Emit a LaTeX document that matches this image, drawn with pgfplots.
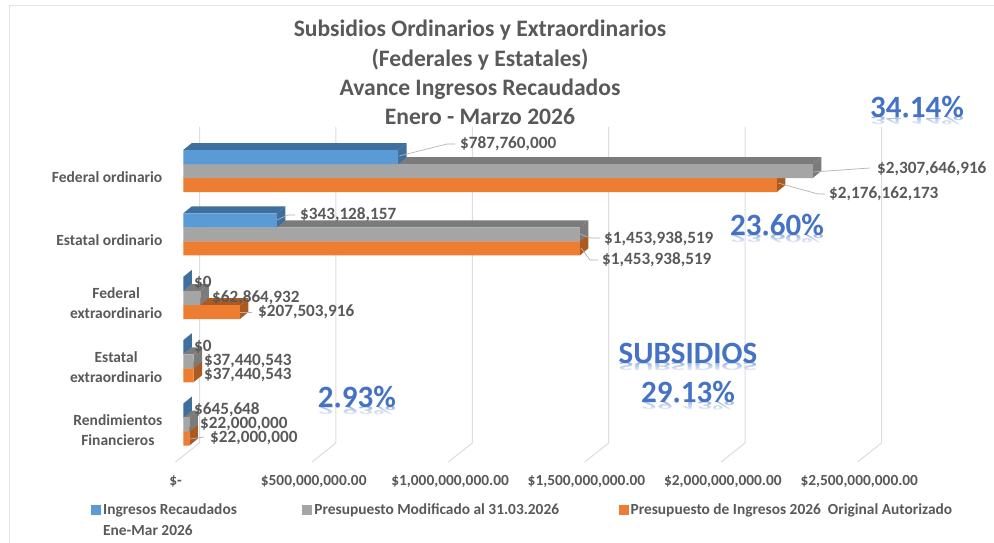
\documentclass[border=0pt]{standalone}
\usepackage{fontspec}
\setmainfont{Carlito}
\usepackage{pgfplots}
\pgfplotsset{compat=1.18}
\usetikzlibrary{fadings}
\definecolor{cblue}{HTML}{5B9BD5}
\definecolor{cbluedk}{HTML}{3F6F9C}
\definecolor{cgray}{HTML}{A5A5A5}
\definecolor{cgraydk}{HTML}{7B7B7B}
\definecolor{corange}{HTML}{ED7D31}
\definecolor{corangedk}{HTML}{AD5A20}
\definecolor{ctxt}{HTML}{595959}
\definecolor{cgrid}{HTML}{DDDDDD}
\definecolor{cpct}{HTML}{4472C4}
% x in millions of pesos, y in picture rows; 3d faces go 8.5px right and 7px up
\newcommand{\faces}[3]{%
  \pgfmathsetmacro\vd{#1+31.16}\pgfmathsetmacro\yb{#2-7}\pgfmathsetmacro\yc{#2+7}\pgfmathsetmacro\yd{#2+14}%
  \addplot[fill=#3,draw=none,forget plot] coordinates {(0,#2)(31.16,\yb)(\vd,\yb)(#1,#2)} -- cycle;
  \addplot[fill=#3,draw=none,forget plot] coordinates {(#1,#2)(\vd,\yb)(\vd,\yc)(#1,\yd)} -- cycle;
}
\newcommand{\pctshadow}[3]{% x, y, text
  \node[font=\fontsize{31}{31}\selectfont\bfseries,text=cpct,yscale=-0.4,opacity=.5,anchor=base] at (#1,543-#2-10) {#3};
  \fill[white,path fading=north] (#1-72,543-#2-9.5) rectangle (#1+72,543-#2-19.5);
}
\newcommand{\pct}[3]{% x, y, text
  \node[font=\fontsize{31}{31}\selectfont\bfseries,text=cpct] at (#1,543-#2) {#3};
}
\tikzset{lbl/.style={font=\fontsize{17.2}{18}\selectfont\bfseries,text=ctxt,anchor=west,inner sep=0pt},
  lead/.style={draw=black!30,line width=0.7pt}}
\begin{document}
\begin{tikzpicture}[x=1pt,y=1pt]
\path[use as bounding box,fill=white] (0,0) rectangle (994,543);
\draw[cgrid!80,line width=1.4pt] (9.5,0) -- (9.5,537.5) -- (994,537.5);
% reflections of the percentages
\pctshadow{917}{107}{34.14\%}
\pctshadow{777}{225}{23.60\%}
\pctshadow{688}{353}{SUBSIDIOS}
\pctshadow{688}{392}{29.13\%}
\pctshadow{357}{397}{2.93\%}
% back wall and floor lines
\foreach \gx in {199.5,335.9,472.3,608.7,745.1,881.5}
  \draw[cgrid,line width=1pt] (\gx,543-127) -- (\gx,543-443) -- (\gx-24,543-462);
\begin{axis}[
  at={(0,0)},anchor=south west,
  scale only axis,width=994pt,height=543pt,
  xmin=-672,xmax=2972,ymin=0,ymax=543,y dir=reverse,
  clip=false,axis line style={draw=none},major tick length=0pt,
  xtick={0,500,1000,1500,2000,2500},
  xticklabels={\$-\ \ ,\$500{,}000{,}000.00,\$1{,}000{,}000{,}000.00,\$1{,}500{,}000{,}000.00,\$2{,}000{,}000{,}000.00,\$2{,}500{,}000{,}000.00},
  xticklabel style={font=\fontsize{15.4}{16}\selectfont\bfseries,text=ctxt,yshift=62pt,xshift=-6pt,anchor=center},
  ytick={177,240,303,367,430},
  yticklabels={Federal ordinario,Estatal ordinario,Federal\\extraordinario,Estatal\\extraordinario,Rendimientos\\Financieros},
  yticklabel style={font=\fontsize{15.5}{19.5}\selectfont\bfseries,text=ctxt,align=center,anchor=east,xshift=162.5pt,inner xsep=0pt},
  legend columns=3,reverse legend,
  legend style={at={(axis description cs:0.0915,0.0757)},anchor=north west,draw=none,fill=none,font=\fontsize{15.4}{18}\selectfont\bfseries,text=ctxt,
    cells={anchor=west},/tikz/every even column/.append style={column sep=60pt},inner sep=0pt},
  legend image code/.code={\fill[#1] (0pt,-4.5pt) rectangle (10pt,5pt);},
]
\faces{2176.16}{178}{corangedk}
\faces{1453.94}{241.3}{corangedk}
\faces{207.50}{305}{corangedk}
\faces{37.44}{368.3}{corangedk}
\faces{22.00}{431.6}{corangedk}
\addplot[xbar,bar width=14pt,bar shift=0pt,fill=corange,draw=none]
  coordinates {(2176.16,185)(1453.94,248.3)(207.50,312)(37.44,375.3)(22.00,438.6)};
\addlegendentry{Presupuesto de Ingresos 2026\ \ Original Autorizado}
\faces{2307.65}{164}{cgraydk}
\faces{1453.94}{227.3}{cgraydk}
\faces{62.86}{291}{cgraydk}
\faces{37.44}{354.3}{cgraydk}
\faces{22.00}{417.6}{cgraydk}
\addplot[xbar,bar width=14pt,bar shift=0pt,fill=cgray,draw=none]
  coordinates {(2307.65,171)(1453.94,234.3)(62.86,298)(37.44,361.3)(22.00,424.6)};
\addlegendentry{Presupuesto Modificado al 31.03.2026\hspace{-2.5pt}\null}
\faces{787.76}{150}{cbluedk}
\faces{343.13}{213.3}{cbluedk}
\faces{0}{277}{cbluedk}
\faces{0}{340.3}{cbluedk}
\faces{0.65}{403.6}{cbluedk}
\addplot[xbar,bar width=14pt,bar shift=0pt,fill=cblue,draw=none]
  coordinates {(787.76,157)(343.13,220.3)(0,284)(0,347.3)(0.65,410.6)};
\addlegendentry{Ingresos Recaudados\hspace{3.5pt}\null}
\end{axis}
\node[font=\fontsize{15.4}{18}\selectfont\bfseries,text=ctxt,anchor=west,inner sep=0pt] at (103,543-530) {Ene-Mar 2026};
% title
\node[font=\fontsize{23.6}{29.2}\selectfont\bfseries,text=ctxt,align=center] at (480,543-72.5)
  {Subsidios Ordinarios y Extraordinarios\\(Federales y Estatales)\\Avance Ingresos Recaudados\\Enero - Marzo 2026};
% leader lines
\draw[lead] (399,543-156) -- (447,543-144) -- (455,543-144);
\draw[lead] (813,543-172) -- (870,543-168);
\draw[lead] (778,543-183) -- (818,543-194) -- (825,543-194);
\draw[lead] (277,543-220) -- (288,543-215) -- (295,543-215);
\draw[lead] (580,543-234) -- (590,543-238) -- (600,543-238);
\draw[lead] (581,543-248) -- (590,543-260) -- (598,543-260);
\draw[lead] (240,543-312) -- (252,543-312);
\draw[lead] (190,543-439) -- (204,543-437);
% data labels
\node[lbl] at (460,543-144) {\$787,760,000};
\node[lbl] at (877,543-169) {\$2,307,646,916};
\node[lbl] at (829,543-194) {\$2,176,162,173};
\node[lbl] at (300,543-215) {\$343,128,157};
\node[lbl] at (604,543-238.7) {\$1,453,938,519};
\node[lbl] at (602,543-260) {\$1,453,938,519};
\node[lbl] at (194,543-283) {\$0};
\node[lbl] at (212,543-298) {\$62,864,932};
\node[lbl] at (258,543-312) {\$207,503,916};
\node[lbl] at (194,543-346.7) {\$0};
\node[lbl] at (204,543-361) {\$37,440,543};
\node[lbl] at (204,543-375) {\$37,440,543};
\node[lbl] at (194,543-410) {\$645,648};
\node[lbl] at (200,543-424) {\$22,000,000};
\node[lbl] at (210,543-438) {\$22,000,000};
% percentages
\pct{917}{107}{34.14\%}
\pct{777}{225}{23.60\%}
\pct{688}{353}{SUBSIDIOS}
\pct{688}{392}{29.13\%}
\pct{357}{397}{2.93\%}
\end{tikzpicture}
\end{document}
